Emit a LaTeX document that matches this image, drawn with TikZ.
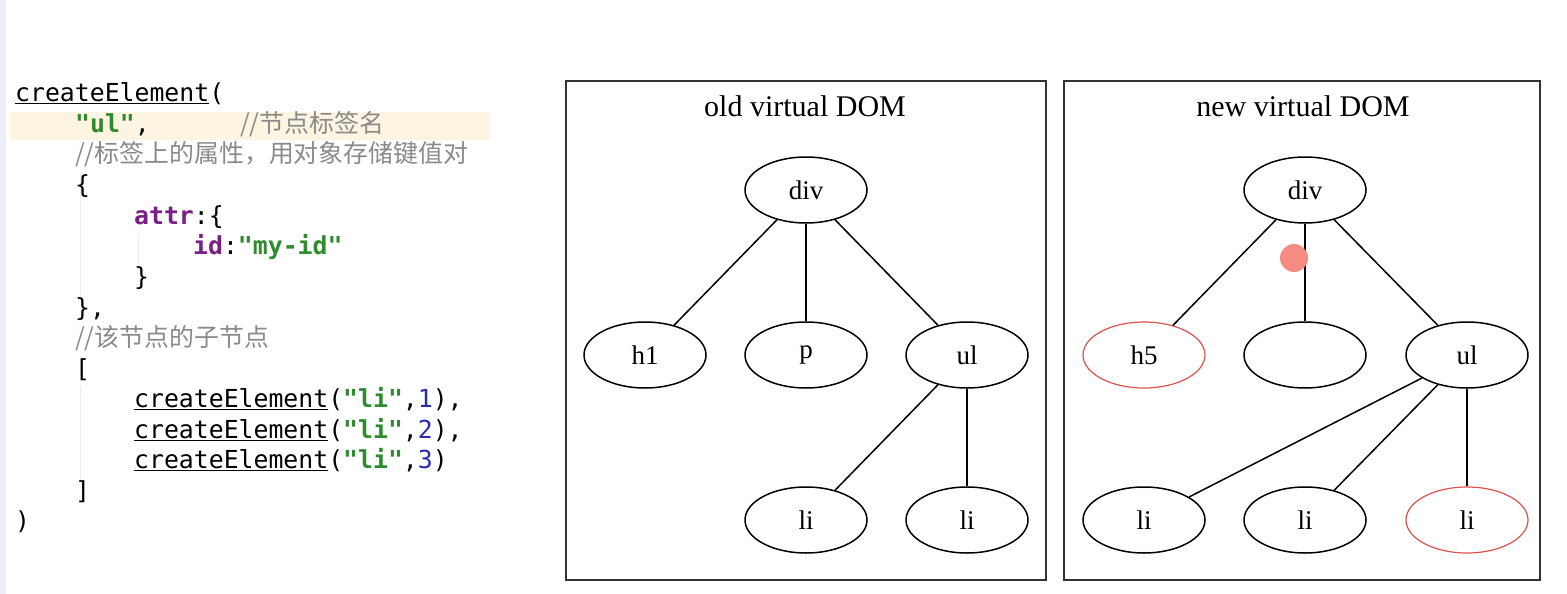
\documentclass[tikz,border=0pt]{standalone}
\usepackage{fontspec}
\setmainfont{Liberation Serif}
\setmonofont{DejaVu Sans Mono}
\newfontfamily\cjk{Noto Sans CJK SC}
\usetikzlibrary{shapes.geometric}
\definecolor{strgreen}{HTML}{2E8B2E}
\definecolor{kwpurple}{HTML}{7A1F86}
\definecolor{numblue}{HTML}{2A2AB0}
\definecolor{cmtgray}{HTML}{8A8A8A}
\definecolor{hlband}{HTML}{FDF5E2}
\definecolor{edstrip}{HTML}{EDF0FA}
\definecolor{boxgray}{HTML}{333333}
\definecolor{diffred}{HTML}{D9534F}
\definecolor{dotred}{HTML}{F58C82}
\definecolor{guide}{HTML}{ECECEC}
\tikzset{
  codeline/.style={anchor=base west, inner sep=0pt, font=\fontsize{24.8}{26}\ttfamily},
  cmt/.style={anchor=base west, inner sep=0pt, text=cmtgray, font=\fontsize{24.9}{26}\cjk},
  domnode/.style={ellipse, draw=black, line width=1.5pt, minimum width=122pt, minimum height=66pt, inner sep=0pt, font=\fontsize{27}{28}\selectfont},
  diffnode/.style={domnode, draw=diffred, line width=1.2pt},
  edge/.style={line width=1.5pt, black},
  panel/.style={draw=boxgray, line width=2.2pt},
  title/.style={font=\fontsize{30}{31}\selectfont, inner sep=0pt}
}
\newcommand{\ceu}{\underline{createElement}}
\newcommand{\gs}[1]{\textcolor{strgreen}{\bfseries #1}}
\newcommand{\kp}[1]{\textcolor{kwpurple}{\bfseries #1}}
\newcommand{\nb}[1]{\textcolor{numblue}{#1}}
\begin{document}
\begin{tikzpicture}[x=1pt,y=-1pt]
\useasboundingbox (0,0) rectangle (1567,594);
\fill[white] (0,0) rectangle (1567,594);
% editor decorations
\fill[edstrip] (0,0) rectangle (6,594);
\fill[hlband] (10,112) rectangle (490,140);
\draw[guide, line width=1pt] (80,172) -- (80,300);
\draw[guide, line width=1pt] (138,234) -- (138,270);
\draw[guide, line width=1pt] (80,386) -- (80,480);
% code
\node[codeline] (l0) at (15,101) {\ceu(};
\node[codeline] (l1) at (75,132) {\gs{"ul"},};
\node[cmt] (c1) at (240,132) {//节点标签名};
\node[cmt] (c2) at (75,162) {//标签上的属性，用对象存储键值对};
\node[codeline] (l3) at (75,193) {\{};
\node[codeline] (l4) at (134,224) {\kp{attr}:\{};
\node[codeline] (l5) at (193,254) {\kp{id}:\gs{"my-id"}};
\node[codeline] (l6) at (134,285) {\}};
\node[codeline] (l7) at (75,316) {\},};
\node[cmt] (c8) at (75,346) {//该节点的子节点};
\node[codeline] (l9) at (75,377) {[};
\node[codeline] (l10) at (134,407) {\ceu(\gs{"li"},\nb{1}),};
\node[codeline] (l11) at (134,438) {\ceu(\gs{"li"},\nb{2}),};
\node[codeline] (l12) at (134,468) {\ceu(\gs{"li"},\nb{3})};
\node[codeline] (l13) at (75,499) {]};
\node[codeline] (l14) at (15,529) {)};
% panels
\draw[panel] (566,81) rectangle (1046,580);
\draw[panel] (1064,81) rectangle (1540,580);
\node[title] (t1) at (805,106) {old virtual DOM};
\node[title] (t2) at (1303,106) {new virtual DOM};
% old tree
\node[domnode] (odiv) at (806,190) {div};
\node[domnode] (oh1) at (645,355) {h1};
\node[domnode] (op) at (806,355) {p};
\node[domnode] (oul) at (967,355) {ul};
\node[domnode] (oli1) at (806,520) {li};
\node[domnode] (oli2) at (967,520) {li};
\draw[edge] (odiv) -- (oh1);
\draw[edge] (odiv) -- (op);
\draw[edge] (odiv) -- (oul);
\draw[edge] (oul) -- (oli1);
\draw[edge] (oul) -- (oli2);
% new tree
\node[domnode] (ndiv) at (1305,190) {div};
\node[diffnode] (nh5) at (1144,355) {h5};
\node[domnode] (np) at (1305,355) {};
\node[domnode] (nul) at (1467,355) {ul};
\node[domnode] (nli1) at (1144,520) {li};
\node[domnode] (nli2) at (1305,520) {li};
\node[diffnode] (nli3) at (1467,520) {li};
\draw[edge] (ndiv) -- (nh5);
\draw[edge] (ndiv) -- (np);
\draw[edge] (ndiv) -- (nul);
\draw[edge] (nul) -- (nli1);
\draw[edge] (nul) -- (nli2);
\draw[edge] (nul) -- (nli3);
% pointer dot
\fill[dotred] (1294,258) circle (14);
\end{tikzpicture}
\end{document}
